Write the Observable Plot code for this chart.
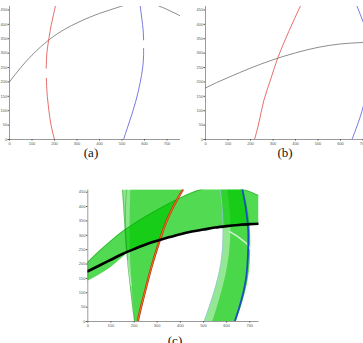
<!DOCTYPE html>
<html>
<head>
<meta charset="utf-8">
<script src="https://cdn.jsdelivr.net/npm/d3@7"></script>
<script src="https://cdn.jsdelivr.net/npm/@observablehq/plot@0.6"></script>
<style>
  html, body { margin: 0; padding: 0; background: #fff; }
  #page { position: relative; width: 363px; height: 343px; overflow: hidden; background: #fff; }
  .pnl { position: absolute; }
  .cap { position: absolute; font-family: "Liberation Serif", "DejaVu Serif", serif; font-size: 13px; line-height: 13px; color: #111; transform: translateX(-50%); white-space: nowrap; }
</style>
</head>
<body>
<div id="page"></div>
<script>
// ---------- tick labels ----------
const xTicks = [0, 100, 200, 300, 400, 500, 600, 700];
const yTicks = [0, 50, 100, 150, 200, 250, 300, 350, 400, 450];

// ---------- panel (a) ----------
const aGrayX = [0, 50, 100, 175, 250, 300, 360, 400, 450, 493, 540, 580, 620, 663, 700, 740, 760];
const aGrayY = [200, 250, 293, 346, 385, 405, 426, 438, 451, 462, 472, 476, 474, 464, 452, 437, 429];
const aRedX = [200, 186, 175, 168, 165, 164, null, 163, 164, 166, 170, 175, 186, 196, 204];
const aRedY = [0, 45, 100, 150, 185, 212, null, 248, 270, 300, 325, 350, 400, 435, 464];
const aBlueX = [507, 525, 545, 562, 580, 592, 596, 596, null, 596, 594, 588, 581];
const aBlueY = [0, 43, 90, 135, 195, 250, 295, 316, null, 346, 380, 420, 464];

// ---------- panel (b) ----------
const bGrayX = [0, 50, 100, 200, 300, 400, 500, 600, 700, 760];
const bGrayY = [179, 198, 215, 248, 277, 301, 320, 332, 337, 339];
const bRedX = [218, 235, 259, 290, 321, 370, 422];
const bRedY = [0, 50, 135, 210, 283, 375, 464];
const bBlueX = [651, 675, 696, 715, 730, 735, 725, 700, 673];
const bBlueY = [0, 50, 100, 160, 230, 300, 360, 410, 464];

// ---------- panel (c) ----------
const cX = [0, 50, 100, 150, 200, 250, 300, 350, 400, 450, 500, 550, 600, 650, 700, 740];
const cArc = [206, 245, 280, 313, 340, 365, 388, 410, 430, 448, 462, 470, 472, 465, 452, 438];
const cBlack = [175, 195, 215, 235, 252, 268, 281, 293, 304, 313, 320, 327, 332, 336, 339, 340];
const cLower = [140, 162, 188, 222, 252, 268, 281, 293, 304, 313, 320, 327, 332, 336, 339, 340];

const cBandY = [0, 50, 100, 150, 200, 250, 300, 350, 400, 458];
// band around the red estimates
const cRedLeft = [202, 194, 187, 180, 173, 168, 163, 159, 155, 150];
const cRedMid = [204, 199, 194, 190, 186, 184, 183, 183, 184, 186];
const cOrange = [216, 230, 246, 262, 279, 298, 318, 341, 370, 410];
const cRedInnerX = [166, 164, 163, 163, 165, 168];
const cRedInnerY = [250, 300, 350, 400, 430, 458];
// band around the blue estimates
const cLightBlue = [503, 525, 545, 562, 575, 582, 585, 584, 580, 573];
const cBlueMid = [540, 560, 578, 594, 606, 614, 618, 618, 614, 605];
const cBlue = [635, 655, 672, 684, 690, 693, 694, 690, 682, 668];
const cBlueOuter = [642, 663, 681, 694, 701, 704, 704, 699, 690, 674];

// white streaks
const streak1X = [615, 640, 665, 690, 703];
const streak1Y = [312, 300, 285, 268, 252];
const streak2X = [172, 176, 181, 187];
const streak2Y = [212, 185, 155, 125];

// ---------- helpers ----------
const idx = (arr) => arr.map((_, i) => i);
function lineXY(xs, ys, opts) {
  return Plot.line(idx(xs), { x: (i) => xs[i], y: (i) => ys[i], clip: true, ...opts });
}

function panel({ width, height, ml, mr, mt, mb, xd, yd, marks }) {
  return Plot.plot({
    width, height,
    marginLeft: ml, marginRight: mr, marginTop: mt, marginBottom: mb,
    x: { domain: xd, ticks: xTicks, label: null, tickSize: 1.5, tickPadding: 0.8 },
    y: { domain: yd, ticks: yTicks, label: null, tickSize: 1.5, tickPadding: 0.8 },
    style: { fontSize: "4px", fontFamily: "Liberation Sans, Arial, sans-serif", color: "#555", background: "transparent", overflow: "visible" },
    marks: [
      ...marks,
      Plot.ruleY([0], { stroke: "#555", strokeWidth: 0.6 }),
      Plot.ruleX([0], { stroke: "#555", strokeWidth: 0.6 })
    ]
  });
}

function place(node, left, top) {
  node.classList.add("pnl");
  node.style.left = left + "px";
  node.style.top = top + "px";
  document.getElementById("page").appendChild(node);
}
function caption(text, cx, top) {
  const d = document.createElement("div");
  d.className = "cap";
  d.textContent = text;
  d.style.left = cx + "px";
  d.style.top = top + "px";
  document.getElementById("page").appendChild(d);
}

// ---------- (a) ----------
const pa = panel({
  width: 181, height: 165, ml: 9, mr: 1, mt: 6, mb: 26,
  xd: [0, 760], yd: [0, 462],
  marks: [
    lineXY(aGrayX, aGrayY, { stroke: "#707070", strokeWidth: 0.8, curve: "monotone-x" }),
    lineXY(aRedX, aRedY, { stroke: "#e04a4a", strokeWidth: 0.8, curve: "monotone-y" }),
    lineXY(aBlueX, aBlueY, { stroke: "#5a5ad8", strokeWidth: 0.8, curve: "monotone-y" })
  ]
});
place(pa, 0, 0);

// ---------- (b) ----------
const pb = panel({
  width: 200, height: 165, ml: 15, mr: 14, mt: 6, mb: 26,
  xd: [0, 760], yd: [0, 462],
  marks: [
    lineXY(bGrayX, bGrayY, { stroke: "#707070", strokeWidth: 0.8, curve: "monotone-x" }),
    lineXY(bRedX, bRedY, { stroke: "#e04a4a", strokeWidth: 0.8, curve: "monotone-y" }),
    lineXY(bBlueX, bBlueY, { stroke: "#5a5ad8", strokeWidth: 0.8, curve: "monotone-y" })
  ]
});
place(pb, 190, 0);

// ---------- (c) ----------
const green = "#00c800";
const edge = "#158a15";
const pc = panel({
  width: 185, height: 161, ml: 9.3, mr: 4.5, mt: 9.4, mb: 20,
  xd: [0, 740], yd: [0, 458],
  marks: [
    // band around black estimate
    Plot.areaY(idx(cX), { x: (i) => cX[i], y1: (i) => cLower[i], y2: (i) => cArc[i], fill: green, fillOpacity: 0.68, curve: "monotone-x", clip: true }),
    // band around red estimate
    Plot.areaX(idx(cBandY), { y: (i) => cBandY[i], x1: (i) => cRedLeft[i], x2: (i) => cOrange[i], fill: green, fillOpacity: 0.45, curve: "monotone-y", clip: true }),
    Plot.areaX(idx(cBandY), { y: (i) => cBandY[i], x1: (i) => cRedMid[i], x2: (i) => cOrange[i], fill: green, fillOpacity: 0.45, curve: "monotone-y", clip: true }),
    // band around blue estimate
    Plot.areaX(idx(cBandY), { y: (i) => cBandY[i], x1: (i) => cLightBlue[i], x2: (i) => cBlueOuter[i], fill: green, fillOpacity: 0.42, curve: "monotone-y", clip: true }),
    Plot.areaX(idx(cBandY), { y: (i) => cBandY[i], x1: (i) => cBlueMid[i], x2: (i) => cBlueOuter[i], fill: green, fillOpacity: 0.5, curve: "monotone-y", clip: true }),
    // white streaks
    lineXY(streak1X, streak1Y, { stroke: "#fff", strokeWidth: 1.6, strokeOpacity: 0.7, curve: "monotone-x" }),
    lineXY(streak2X, streak2Y, { stroke: "#fff", strokeWidth: 1, strokeOpacity: 0.75, curve: "monotone-y" }),
    // thin outlines
    lineXY(cX, cArc, { stroke: edge, strokeWidth: 0.5, strokeOpacity: 0.8, curve: "monotone-x" }),
    lineXY(cRedLeft, cBandY, { stroke: edge, strokeWidth: 0.5, strokeOpacity: 0.8, curve: "monotone-y" }),
    lineXY(cRedInnerX, cRedInnerY, { stroke: edge, strokeWidth: 0.5, strokeOpacity: 0.7, curve: "monotone-y" }),
    lineXY(cLightBlue, cBandY, { stroke: "#9cc4e4", strokeWidth: 0.8, curve: "monotone-y" }),
    // thick estimates
    lineXY(cOrange, cBandY, { stroke: "#b02a10", strokeWidth: 2.2, curve: "monotone-y" }),
    lineXY(cOrange, cBandY, { stroke: "#f06a1a", strokeWidth: 1.2, curve: "monotone-y" }),
    lineXY(cBlue, cBandY, { stroke: "#1c4fc4", strokeWidth: 1.8, curve: "monotone-y" }),
    lineXY(cX, cBlack, { stroke: "#000", strokeWidth: 2.6, curve: "monotone-x" })
  ]
});
place(pc, 78, 180);

// ---------- captions ----------
caption("(a)", 91, 146);
caption("(b)", 285, 146);
caption("(c)", 175, 334);
</script>
</body>
</html>
